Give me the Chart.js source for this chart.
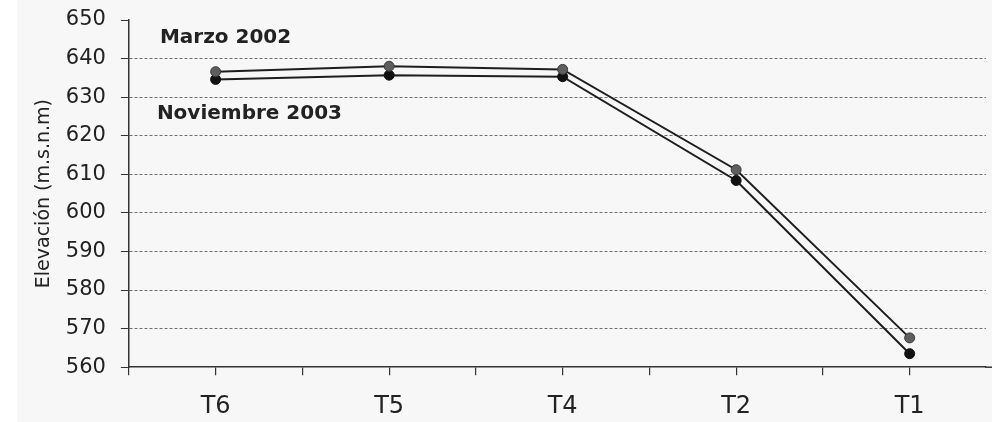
<!DOCTYPE html>
<html>
<head>
<meta charset="utf-8">
<script src="https://cdn.jsdelivr.net/npm/chart.js@4.4.1/dist/chart.umd.min.js"></script>
<style>
  html, body { margin: 0; padding: 0; background: #f7f7f7; }
  #wrap { width: 992px; height: 422px; }
</style>
</head>
<body>
<div id="wrap"><canvas id="c" width="992" height="422"></canvas></div>
<script>
// Sampling points along the profile
const categories = ['T6', 'T5', 'T4', 'T2', 'T1'];
// Elevation (m.s.n.m) per survey
const marzo2002 = [636.6, 638.0, 637.2, 611.2, 567.6];
const noviembre2003 = [634.6, 635.7, 635.3, 608.4, 563.5];
const seriesNames = ['Marzo 2002', 'Noviembre 2003'];
// Y axis range
const yMin = 560, yMax = 650, yStep = 10;

const toPoints = vals => vals.map((v, i) => ({ x: i, y: v }));

const bgPlugin = {
  id: 'bg',
  beforeDraw(chart) {
    const { ctx, width, height } = chart;
    ctx.save();
    ctx.fillStyle = '#f7f7f7';
    ctx.fillRect(0, 0, width, height);
    ctx.fillStyle = '#ffffff';
    ctx.fillRect(0, 0, 17, height);
    ctx.restore();
  },
  // carry the category axis line on to the right edge of the canvas
  afterDraw(chart) {
    const { ctx, width, chartArea } = chart;
    ctx.save();
    ctx.strokeStyle = '#333';
    ctx.lineWidth = 1.5;
    ctx.beginPath();
    ctx.moveTo(chartArea.right - 1, chartArea.bottom);
    ctx.lineTo(width, chartArea.bottom);
    ctx.stroke();
    ctx.restore();
  }
};

// Series names written inside the plot, near the left end of each line
const seriesLabels = {
  id: 'seriesLabels',
  afterDatasetsDraw(chart) {
    const { ctx, scales: { x, y } } = chart;
    const left = x.getPixelForValue(-0.5);
    ctx.save();
    ctx.font = 'bold 20px "DejaVu Sans", Verdana, sans-serif';
    ctx.fillStyle = '#222';
    ctx.textAlign = 'left';
    ctx.textBaseline = 'middle';
    ctx.fillText(seriesNames[0], left + 31, y.getPixelForValue(645.4));
    ctx.fillText(seriesNames[1], left + 28, y.getPixelForValue(625.6));
    ctx.restore();
  }
};

new Chart(document.getElementById('c'), {
  type: 'line',
  data: {
    datasets: [
      {
        label: seriesNames[0],
        data: toPoints(marzo2002),
        borderColor: '#1e1e1e',
        borderWidth: 2,
        pointRadius: 5,
        pointBackgroundColor: '#5e5e5e',
        pointBorderColor: '#3a3a3a',
        pointBorderWidth: 1,
        tension: 0
      },
      {
        label: seriesNames[1],
        data: toPoints(noviembre2003),
        borderColor: '#1e1e1e',
        borderWidth: 2,
        pointRadius: 5,
        pointBackgroundColor: '#111',
        pointBorderColor: '#111',
        pointBorderWidth: 1,
        tension: 0
      }
    ]
  },
  options: {
    responsive: false,
    animation: false,
    layout: { padding: { left: 2, right: 0, top: 20, bottom: -16 } },
    plugins: { legend: { display: false }, tooltip: { enabled: false } },
    scales: {
      x: {
        type: 'linear',
        min: -0.5,
        max: 4.44,
        afterBuildTicks(scale) {
          const t = [];
          for (let v = -0.5; v <= categories.length - 1 + 1e-9; v += 0.5) t.push({ value: v });
          scale.ticks = t;
        },
        afterFit(scale) { scale.paddingLeft = 0; scale.paddingRight = 0; },
        grid: { drawOnChartArea: false, drawTicks: true, tickLength: 8, color: '#333', lineWidth: 1.2 },
        border: { color: '#333', width: 1.5 },
        ticks: {
          autoSkip: false,
          maxRotation: 0,
          padding: 17,
          color: '#222',
          font: { family: '"DejaVu Sans", Verdana, sans-serif', size: 24 },
          callback: v => Number.isInteger(v) ? categories[v] : ''
        }
      },
      y: {
        min: yMin,
        max: yMax,
        afterFit(scale) { scale.paddingTop = 0; scale.paddingBottom = 0; },
        grid: {
          color: c => (c.tick && (c.tick.value === yMax || c.tick.value === yMin)) ? 'rgba(0,0,0,0)' : '#6e6e6e',
          tickColor: '#333',
          lineWidth: 1,
          tickLength: 8
        },
        border: { color: '#333', width: 1.5, dash: [3, 2] },
        ticks: {
          stepSize: yStep,
          padding: 15,
          color: '#222',
          font: { family: '"DejaVu Sans", Verdana, sans-serif', size: 21 }
        },
        title: {
          display: true,
          text: 'Elevación (m.s.n.m)',
          color: '#222',
          padding: { top: 31, bottom: -5 },
          font: { family: '"DejaVu Sans", Verdana, sans-serif', size: 19 }
        }
      }
    }
  },
  plugins: [bgPlugin, seriesLabels]
});
</script>
</body>
</html>
